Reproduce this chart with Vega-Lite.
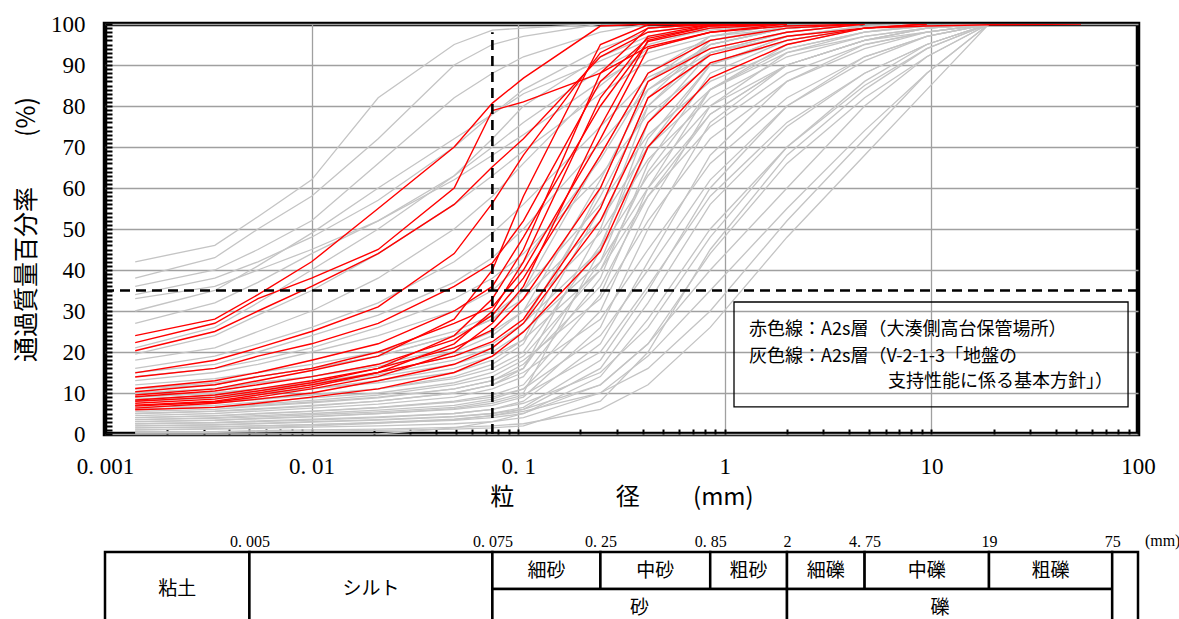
{
"$schema": "https://vega.github.io/schema/vega-lite/v6.json",
"background": "white",
"padding": {"left": 12, "top": 10, "right": 5, "bottom": 5},
"spacing": 20,
"config": {"view": {"stroke": null}, "font": "Liberation Serif"},
"datasets": {
"gray": [
{"g":1,"d":0.0014,"p":42},{"g":1,"d":0.0034,"p":46},{"g":1,"d":0.0055,"p":53},{"g":1,"d":0.01,"p":62},{"g":1,"d":0.021,"p":82},{"g":1,"d":0.049,"p":95},{"g":1,"d":0.075,"p":98.5},{"g":1,"d":0.106,"p":99},{"g":1,"d":0.25,"p":100},
{"g":2,"d":0.0014,"p":38},{"g":2,"d":0.0034,"p":43},{"g":2,"d":0.0055,"p":50},{"g":2,"d":0.01,"p":58},{"g":2,"d":0.021,"p":72},{"g":2,"d":0.049,"p":90},{"g":2,"d":0.075,"p":95},{"g":2,"d":0.106,"p":97},{"g":2,"d":0.25,"p":100},
{"g":3,"d":0.0014,"p":36},{"g":3,"d":0.0034,"p":40},{"g":3,"d":0.0055,"p":45},{"g":3,"d":0.01,"p":52},{"g":3,"d":0.021,"p":66},{"g":3,"d":0.049,"p":82},{"g":3,"d":0.075,"p":88},{"g":3,"d":0.106,"p":92},{"g":3,"d":0.25,"p":98},{"g":3,"d":0.425,"p":100},
{"g":4,"d":0.0014,"p":34},{"g":4,"d":0.0034,"p":38},{"g":4,"d":0.0055,"p":42},{"g":4,"d":0.01,"p":48},{"g":4,"d":0.021,"p":57},{"g":4,"d":0.049,"p":70},{"g":4,"d":0.075,"p":78},{"g":4,"d":0.106,"p":84},{"g":4,"d":0.25,"p":94},{"g":4,"d":0.425,"p":98},{"g":4,"d":0.85,"p":100},
{"g":5,"d":0.0014,"p":33},{"g":5,"d":0.0034,"p":36},{"g":5,"d":0.0055,"p":40},{"g":5,"d":0.01,"p":45},{"g":5,"d":0.021,"p":52},{"g":5,"d":0.049,"p":63},{"g":5,"d":0.075,"p":70},{"g":5,"d":0.106,"p":76},{"g":5,"d":0.25,"p":89},{"g":5,"d":0.425,"p":95},{"g":5,"d":0.85,"p":99},{"g":5,"d":2,"p":100},
{"g":6,"d":0.0014,"p":30},{"g":6,"d":0.0034,"p":35},{"g":6,"d":0.0055,"p":41},{"g":6,"d":0.01,"p":49},{"g":6,"d":0.021,"p":60},{"g":6,"d":0.049,"p":72},{"g":6,"d":0.075,"p":78},{"g":6,"d":0.106,"p":83},{"g":6,"d":0.25,"p":91},{"g":6,"d":0.425,"p":96},{"g":6,"d":0.85,"p":98.5},{"g":6,"d":2,"p":100},
{"g":7,"d":0.0014,"p":27},{"g":7,"d":0.0034,"p":32},{"g":7,"d":0.0055,"p":37},{"g":7,"d":0.01,"p":44},{"g":7,"d":0.021,"p":52},{"g":7,"d":0.049,"p":62},{"g":7,"d":0.075,"p":68},{"g":7,"d":0.106,"p":73},{"g":7,"d":0.25,"p":86},{"g":7,"d":0.425,"p":93},{"g":7,"d":0.85,"p":97},{"g":7,"d":2,"p":99},{"g":7,"d":4.75,"p":100},
{"g":8,"d":0.0014,"p":21},{"g":8,"d":0.0034,"p":26},{"g":8,"d":0.0055,"p":32},{"g":8,"d":0.01,"p":40},{"g":8,"d":0.021,"p":50},{"g":8,"d":0.049,"p":63},{"g":8,"d":0.075,"p":72},{"g":8,"d":0.106,"p":80},{"g":8,"d":0.25,"p":92},{"g":8,"d":0.425,"p":97},{"g":8,"d":0.85,"p":99},{"g":8,"d":2,"p":100},
{"g":9,"d":0.0014,"p":19.5},{"g":9,"d":0.0034,"p":24},{"g":9,"d":0.0055,"p":29},{"g":9,"d":0.01,"p":35},{"g":9,"d":0.021,"p":44},{"g":9,"d":0.049,"p":56},{"g":9,"d":0.075,"p":63},{"g":9,"d":0.106,"p":69},{"g":9,"d":0.25,"p":83},{"g":9,"d":0.425,"p":91},{"g":9,"d":0.85,"p":96},{"g":9,"d":2,"p":99},{"g":9,"d":4.75,"p":100},
{"g":10,"d":0.0014,"p":18},{"g":10,"d":0.0034,"p":21},{"g":10,"d":0.0055,"p":25},{"g":10,"d":0.01,"p":30},{"g":10,"d":0.021,"p":38},{"g":10,"d":0.049,"p":50},{"g":10,"d":0.075,"p":58},{"g":10,"d":0.106,"p":66},{"g":10,"d":0.25,"p":85},{"g":10,"d":0.425,"p":94},{"g":10,"d":0.85,"p":98},{"g":10,"d":2,"p":100},
{"g":11,"d":0.0014,"p":16},{"g":11,"d":0.0034,"p":19},{"g":11,"d":0.0055,"p":22},{"g":11,"d":0.01,"p":26},{"g":11,"d":0.021,"p":32},{"g":11,"d":0.049,"p":42},{"g":11,"d":0.075,"p":49},{"g":11,"d":0.106,"p":56},{"g":11,"d":0.25,"p":75},{"g":11,"d":0.425,"p":87},{"g":11,"d":0.85,"p":94},{"g":11,"d":2,"p":98},{"g":11,"d":4.75,"p":100},
{"g":12,"d":0.0014,"p":15},{"g":12,"d":0.0034,"p":17},{"g":12,"d":0.0055,"p":20},{"g":12,"d":0.01,"p":24},{"g":12,"d":0.021,"p":29},{"g":12,"d":0.049,"p":37},{"g":12,"d":0.075,"p":43},{"g":12,"d":0.106,"p":50},{"g":12,"d":0.25,"p":71},{"g":12,"d":0.425,"p":84},{"g":12,"d":0.85,"p":93},{"g":12,"d":2,"p":97},{"g":12,"d":4.75,"p":99},{"g":12,"d":9.5,"p":100},
{"g":13,"d":0.0014,"p":14},{"g":13,"d":0.0034,"p":16},{"g":13,"d":0.0055,"p":18},{"g":13,"d":0.01,"p":21},{"g":13,"d":0.021,"p":26},{"g":13,"d":0.049,"p":33},{"g":13,"d":0.075,"p":38},{"g":13,"d":0.106,"p":44},{"g":13,"d":0.25,"p":63},{"g":13,"d":0.425,"p":78},{"g":13,"d":0.85,"p":90},{"g":13,"d":2,"p":96},{"g":13,"d":4.75,"p":99},{"g":13,"d":9.5,"p":100},
{"g":14,"d":0.0014,"p":13},{"g":14,"d":0.0034,"p":15},{"g":14,"d":0.0055,"p":17},{"g":14,"d":0.01,"p":20},{"g":14,"d":0.021,"p":24},{"g":14,"d":0.049,"p":30},{"g":14,"d":0.075,"p":35},{"g":14,"d":0.106,"p":42},{"g":14,"d":0.25,"p":67},{"g":14,"d":0.425,"p":86},{"g":14,"d":0.85,"p":95},{"g":14,"d":2,"p":99},{"g":14,"d":4.75,"p":100},
{"g":15,"d":0.0014,"p":12},{"g":15,"d":0.0034,"p":13.5},{"g":15,"d":0.0055,"p":15},{"g":15,"d":0.01,"p":17},{"g":15,"d":0.021,"p":20},{"g":15,"d":0.049,"p":25},{"g":15,"d":0.075,"p":29},{"g":15,"d":0.106,"p":35},{"g":15,"d":0.25,"p":56},{"g":15,"d":0.425,"p":73},{"g":15,"d":0.85,"p":86},{"g":15,"d":2,"p":94},{"g":15,"d":4.75,"p":98},{"g":15,"d":9.5,"p":99.5},{"g":15,"d":19,"p":100},
{"g":16,"d":0.0014,"p":11},{"g":16,"d":0.0034,"p":12},{"g":16,"d":0.0055,"p":14},{"g":16,"d":0.01,"p":16},{"g":16,"d":0.021,"p":19},{"g":16,"d":0.049,"p":24},{"g":16,"d":0.075,"p":28},{"g":16,"d":0.106,"p":33},{"g":16,"d":0.25,"p":52},{"g":16,"d":0.425,"p":70},{"g":16,"d":0.85,"p":84},{"g":16,"d":2,"p":93},{"g":16,"d":4.75,"p":97},{"g":16,"d":9.5,"p":99},{"g":16,"d":19,"p":100},
{"g":17,"d":0.0014,"p":10},{"g":17,"d":0.0034,"p":11},{"g":17,"d":0.0055,"p":12.5},{"g":17,"d":0.01,"p":14},{"g":17,"d":0.021,"p":17},{"g":17,"d":0.049,"p":21},{"g":17,"d":0.075,"p":25},{"g":17,"d":0.106,"p":30},{"g":17,"d":0.25,"p":49},{"g":17,"d":0.425,"p":67},{"g":17,"d":0.85,"p":82},{"g":17,"d":2,"p":92},{"g":17,"d":4.75,"p":97},{"g":17,"d":9.5,"p":99},{"g":17,"d":19,"p":100},
{"g":18,"d":0.0014,"p":9},{"g":18,"d":0.0034,"p":10},{"g":18,"d":0.0055,"p":11},{"g":18,"d":0.01,"p":12.5},{"g":18,"d":0.021,"p":15},{"g":18,"d":0.049,"p":19},{"g":18,"d":0.075,"p":22},{"g":18,"d":0.106,"p":27},{"g":18,"d":0.25,"p":45},{"g":18,"d":0.425,"p":63},{"g":18,"d":0.85,"p":80},{"g":18,"d":2,"p":90},{"g":18,"d":4.75,"p":96},{"g":18,"d":9.5,"p":99},{"g":18,"d":19,"p":100},
{"g":19,"d":0.0014,"p":8.5},{"g":19,"d":0.0034,"p":9.5},{"g":19,"d":0.0055,"p":10.5},{"g":19,"d":0.01,"p":12},{"g":19,"d":0.021,"p":14},{"g":19,"d":0.049,"p":17},{"g":19,"d":0.075,"p":20},{"g":19,"d":0.106,"p":25},{"g":19,"d":0.25,"p":42},{"g":19,"d":0.425,"p":60},{"g":19,"d":0.85,"p":78},{"g":19,"d":2,"p":90},{"g":19,"d":4.75,"p":96},{"g":19,"d":9.5,"p":98},{"g":19,"d":19,"p":100},
{"g":20,"d":0.0014,"p":8},{"g":20,"d":0.0034,"p":9},{"g":20,"d":0.0055,"p":10},{"g":20,"d":0.01,"p":11},{"g":20,"d":0.021,"p":13},{"g":20,"d":0.049,"p":16},{"g":20,"d":0.075,"p":19},{"g":20,"d":0.106,"p":23},{"g":20,"d":0.25,"p":40},{"g":20,"d":0.425,"p":58},{"g":20,"d":0.85,"p":75},{"g":20,"d":2,"p":88},{"g":20,"d":4.75,"p":95},{"g":20,"d":9.5,"p":98},{"g":20,"d":19,"p":100},
{"g":21,"d":0.0014,"p":0.5},{"g":21,"d":0.0034,"p":0.6},{"g":21,"d":0.0055,"p":0.8},{"g":21,"d":0.01,"p":1},{"g":21,"d":0.021,"p":1.2},{"g":21,"d":0.049,"p":1.6},{"g":21,"d":0.075,"p":2},{"g":21,"d":0.106,"p":2.5},{"g":21,"d":0.25,"p":6},{"g":21,"d":0.425,"p":12},{"g":21,"d":0.85,"p":26},{"g":21,"d":2,"p":48},{"g":21,"d":4.75,"p":68},{"g":21,"d":9.5,"p":84},{"g":21,"d":19,"p":100},
{"g":22,"d":0.0014,"p":1},{"g":22,"d":0.0034,"p":1.2},{"g":22,"d":0.0055,"p":1.4},{"g":22,"d":0.01,"p":1.7},{"g":22,"d":0.021,"p":2},{"g":22,"d":0.049,"p":2.5},{"g":22,"d":0.075,"p":3},{"g":22,"d":0.106,"p":4},{"g":22,"d":0.25,"p":10},{"g":22,"d":0.425,"p":19},{"g":22,"d":0.85,"p":35},{"g":22,"d":2,"p":55},{"g":22,"d":4.75,"p":74},{"g":22,"d":9.5,"p":88},{"g":22,"d":19,"p":100},
{"g":23,"d":0.0014,"p":1.5},{"g":23,"d":0.0034,"p":1.8},{"g":23,"d":0.0055,"p":2},{"g":23,"d":0.01,"p":2.3},{"g":23,"d":0.021,"p":2.7},{"g":23,"d":0.049,"p":3.3},{"g":23,"d":0.075,"p":4},{"g":23,"d":0.106,"p":5},{"g":23,"d":0.25,"p":14},{"g":23,"d":0.425,"p":28},{"g":23,"d":0.85,"p":50},{"g":23,"d":2,"p":70},{"g":23,"d":4.75,"p":85},{"g":23,"d":9.5,"p":94},{"g":23,"d":19,"p":100},
{"g":24,"d":0.0014,"p":2},{"g":24,"d":0.0034,"p":2.3},{"g":24,"d":0.0055,"p":2.6},{"g":24,"d":0.01,"p":3},{"g":24,"d":0.021,"p":3.5},{"g":24,"d":0.049,"p":4.3},{"g":24,"d":0.075,"p":5},{"g":24,"d":0.106,"p":6.5},{"g":24,"d":0.25,"p":18},{"g":24,"d":0.425,"p":35},{"g":24,"d":0.85,"p":60},{"g":24,"d":2,"p":80},{"g":24,"d":4.75,"p":92},{"g":24,"d":9.5,"p":97},{"g":24,"d":19,"p":100},
{"g":25,"d":0.0014,"p":2.5},{"g":25,"d":0.0034,"p":2.8},{"g":25,"d":0.0055,"p":3.2},{"g":25,"d":0.01,"p":3.6},{"g":25,"d":0.021,"p":4.2},{"g":25,"d":0.049,"p":5},{"g":25,"d":0.075,"p":6},{"g":25,"d":0.106,"p":8},{"g":25,"d":0.25,"p":22},{"g":25,"d":0.425,"p":42},{"g":25,"d":0.85,"p":68},{"g":25,"d":2,"p":86},{"g":25,"d":4.75,"p":95},{"g":25,"d":9.5,"p":98},{"g":25,"d":19,"p":100},
{"g":26,"d":0.0014,"p":3},{"g":26,"d":0.0034,"p":3.4},{"g":26,"d":0.0055,"p":3.8},{"g":26,"d":0.01,"p":4.3},{"g":26,"d":0.021,"p":5},{"g":26,"d":0.049,"p":6},{"g":26,"d":0.075,"p":7},{"g":26,"d":0.106,"p":9},{"g":26,"d":0.25,"p":26},{"g":26,"d":0.425,"p":50},{"g":26,"d":0.85,"p":76},{"g":26,"d":2,"p":90},{"g":26,"d":4.75,"p":96},{"g":26,"d":9.5,"p":99},{"g":26,"d":19,"p":100},
{"g":27,"d":0.0014,"p":3.5},{"g":27,"d":0.0034,"p":4},{"g":27,"d":0.0055,"p":4.5},{"g":27,"d":0.01,"p":5},{"g":27,"d":0.021,"p":5.8},{"g":27,"d":0.049,"p":7},{"g":27,"d":0.075,"p":8.5},{"g":27,"d":0.106,"p":11},{"g":27,"d":0.25,"p":30},{"g":27,"d":0.425,"p":55},{"g":27,"d":0.85,"p":80},{"g":27,"d":2,"p":93},{"g":27,"d":4.75,"p":98},{"g":27,"d":9.5,"p":99.5},{"g":27,"d":19,"p":100},
{"g":28,"d":0.0014,"p":4},{"g":28,"d":0.0034,"p":4.5},{"g":28,"d":0.0055,"p":5},{"g":28,"d":0.01,"p":5.6},{"g":28,"d":0.021,"p":6.5},{"g":28,"d":0.049,"p":8},{"g":28,"d":0.075,"p":9.5},{"g":28,"d":0.106,"p":12},{"g":28,"d":0.25,"p":34},{"g":28,"d":0.425,"p":60},{"g":28,"d":0.85,"p":84},{"g":28,"d":2,"p":95},{"g":28,"d":4.75,"p":99},{"g":28,"d":9.5,"p":100},
{"g":29,"d":0.0014,"p":4.5},{"g":29,"d":0.0034,"p":5},{"g":29,"d":0.0055,"p":5.6},{"g":29,"d":0.01,"p":6.3},{"g":29,"d":0.021,"p":7.3},{"g":29,"d":0.049,"p":9},{"g":29,"d":0.075,"p":11},{"g":29,"d":0.106,"p":14},{"g":29,"d":0.25,"p":38},{"g":29,"d":0.425,"p":66},{"g":29,"d":0.85,"p":88},{"g":29,"d":2,"p":96},{"g":29,"d":4.75,"p":99},{"g":29,"d":9.5,"p":100},
{"g":30,"d":0.0014,"p":5},{"g":30,"d":0.0034,"p":5.6},{"g":30,"d":0.0055,"p":6.2},{"g":30,"d":0.01,"p":7},{"g":30,"d":0.021,"p":8},{"g":30,"d":0.049,"p":10},{"g":30,"d":0.075,"p":12},{"g":30,"d":0.106,"p":16},{"g":30,"d":0.25,"p":42},{"g":30,"d":0.425,"p":70},{"g":30,"d":0.85,"p":90},{"g":30,"d":2,"p":97},{"g":30,"d":4.75,"p":99.5},{"g":30,"d":9.5,"p":100},
{"g":31,"d":0.0014,"p":5.5},{"g":31,"d":0.0034,"p":6},{"g":31,"d":0.0055,"p":6.8},{"g":31,"d":0.01,"p":7.6},{"g":31,"d":0.021,"p":8.8},{"g":31,"d":0.049,"p":11},{"g":31,"d":0.075,"p":13},{"g":31,"d":0.106,"p":17},{"g":31,"d":0.25,"p":36},{"g":31,"d":0.425,"p":58},{"g":31,"d":0.85,"p":78},{"g":31,"d":2,"p":90},{"g":31,"d":4.75,"p":96},{"g":31,"d":9.5,"p":99},{"g":31,"d":19,"p":100},
{"g":32,"d":0.0014,"p":6},{"g":32,"d":0.0034,"p":6.6},{"g":32,"d":0.0055,"p":7.3},{"g":32,"d":0.01,"p":8.2},{"g":32,"d":0.021,"p":9.5},{"g":32,"d":0.049,"p":12},{"g":32,"d":0.075,"p":14},{"g":32,"d":0.106,"p":18},{"g":32,"d":0.25,"p":33},{"g":32,"d":0.425,"p":52},{"g":32,"d":0.85,"p":72},{"g":32,"d":2,"p":86},{"g":32,"d":4.75,"p":94},{"g":32,"d":9.5,"p":98},{"g":32,"d":19,"p":100},
{"g":33,"d":0.0014,"p":6.5},{"g":33,"d":0.0034,"p":7},{"g":33,"d":0.0055,"p":7.8},{"g":33,"d":0.01,"p":8.8},{"g":33,"d":0.021,"p":10},{"g":33,"d":0.049,"p":12.5},{"g":33,"d":0.075,"p":15},{"g":33,"d":0.106,"p":19},{"g":33,"d":0.25,"p":40},{"g":33,"d":0.425,"p":64},{"g":33,"d":0.85,"p":84},{"g":33,"d":2,"p":94},{"g":33,"d":4.75,"p":98},{"g":33,"d":9.5,"p":100},
{"g":34,"d":0.0014,"p":7},{"g":34,"d":0.0034,"p":7.6},{"g":34,"d":0.0055,"p":8.4},{"g":34,"d":0.01,"p":9.5},{"g":34,"d":0.021,"p":11},{"g":34,"d":0.049,"p":13.5},{"g":34,"d":0.075,"p":16},{"g":34,"d":0.106,"p":20},{"g":34,"d":0.25,"p":46},{"g":34,"d":0.425,"p":72},{"g":34,"d":0.85,"p":90},{"g":34,"d":2,"p":97},{"g":34,"d":4.75,"p":99.5},{"g":34,"d":9.5,"p":100},
{"g":35,"d":0.0014,"p":1},{"g":35,"d":0.0034,"p":1.3},{"g":35,"d":0.0055,"p":1.6},{"g":35,"d":0.01,"p":2},{"g":35,"d":0.021,"p":2.6},{"g":35,"d":0.049,"p":3.5},{"g":35,"d":0.075,"p":4.5},{"g":35,"d":0.106,"p":6},{"g":35,"d":0.25,"p":16},{"g":35,"d":0.425,"p":32},{"g":35,"d":0.85,"p":56},{"g":35,"d":2,"p":75},{"g":35,"d":4.75,"p":88},{"g":35,"d":9.5,"p":95},{"g":35,"d":19,"p":100},
{"g":36,"d":0.0014,"p":2},{"g":36,"d":0.0034,"p":2.2},{"g":36,"d":0.0055,"p":2.5},{"g":36,"d":0.01,"p":2.9},{"g":36,"d":0.021,"p":3.4},{"g":36,"d":0.049,"p":4.2},{"g":36,"d":0.075,"p":5},{"g":36,"d":0.106,"p":6},{"g":36,"d":0.25,"p":12},{"g":36,"d":0.425,"p":22},{"g":36,"d":0.85,"p":44},{"g":36,"d":2,"p":66},{"g":36,"d":4.75,"p":82},{"g":36,"d":9.5,"p":92},{"g":36,"d":19,"p":100},
{"g":37,"d":0.0014,"p":3},{"g":37,"d":0.0034,"p":3.3},{"g":37,"d":0.0055,"p":3.7},{"g":37,"d":0.01,"p":4.2},{"g":37,"d":0.021,"p":5},{"g":37,"d":0.049,"p":6.2},{"g":37,"d":0.075,"p":7.5},{"g":37,"d":0.106,"p":9.5},{"g":37,"d":0.25,"p":20},{"g":37,"d":0.425,"p":36},{"g":37,"d":0.85,"p":58},{"g":37,"d":2,"p":76},{"g":37,"d":4.75,"p":88},{"g":37,"d":9.5,"p":95},{"g":37,"d":19,"p":100},
{"g":38,"d":0.0014,"p":4},{"g":38,"d":0.0034,"p":4.4},{"g":38,"d":0.0055,"p":4.9},{"g":38,"d":0.01,"p":5.5},{"g":38,"d":0.021,"p":6.4},{"g":38,"d":0.049,"p":7.8},{"g":38,"d":0.075,"p":9},{"g":38,"d":0.106,"p":11},{"g":38,"d":0.25,"p":24},{"g":38,"d":0.425,"p":40},{"g":38,"d":0.85,"p":62},{"g":38,"d":2,"p":80},{"g":38,"d":4.75,"p":91},{"g":38,"d":9.5,"p":97},{"g":38,"d":19,"p":100},
{"g":39,"d":0.0014,"p":0.3},{"g":39,"d":0.0034,"p":0.4},{"g":39,"d":0.0055,"p":0.5},{"g":39,"d":0.01,"p":0.7},{"g":39,"d":0.021,"p":0.9},{"g":39,"d":0.049,"p":1.2},{"g":39,"d":0.075,"p":1.5},{"g":39,"d":0.106,"p":2},{"g":39,"d":0.25,"p":8},{"g":39,"d":0.425,"p":20},{"g":39,"d":0.85,"p":45},{"g":39,"d":2,"p":68},{"g":39,"d":4.75,"p":84},{"g":39,"d":9.5,"p":94},{"g":39,"d":19,"p":100},
{"g":40,"d":0.0014,"p":0},{"g":40,"d":0.0034,"p":0},{"g":40,"d":0.0055,"p":0},{"g":40,"d":0.01,"p":0},{"g":40,"d":0.021,"p":0},{"g":40,"d":0.049,"p":1.5},{"g":40,"d":0.075,"p":3},{"g":40,"d":0.106,"p":5},{"g":40,"d":0.25,"p":12},{"g":40,"d":0.425,"p":22},{"g":40,"d":0.85,"p":40},{"g":40,"d":2,"p":60},{"g":40,"d":4.75,"p":80},{"g":40,"d":9.5,"p":92},{"g":40,"d":19,"p":100},
{"g":41,"d":0.0014,"p":5},{"g":41,"d":0.0034,"p":5.5},{"g":41,"d":0.0055,"p":6},{"g":41,"d":0.01,"p":6.8},{"g":41,"d":0.021,"p":8},{"g":41,"d":0.049,"p":10},{"g":41,"d":0.075,"p":12},{"g":41,"d":0.106,"p":15},{"g":41,"d":0.25,"p":28},{"g":41,"d":0.425,"p":45},{"g":41,"d":0.85,"p":66},{"g":41,"d":2,"p":82},{"g":41,"d":4.75,"p":92},{"g":41,"d":9.5,"p":97},{"g":41,"d":19,"p":100},
{"g":42,"d":0.0014,"p":2.5},{"g":42,"d":0.0034,"p":2.7},{"g":42,"d":0.0055,"p":3},{"g":42,"d":0.01,"p":3.4},{"g":42,"d":0.021,"p":4},{"g":42,"d":0.049,"p":5},{"g":42,"d":0.075,"p":6},{"g":42,"d":0.106,"p":7.5},{"g":42,"d":0.25,"p":15},{"g":42,"d":0.425,"p":26},{"g":42,"d":0.85,"p":48},{"g":42,"d":2,"p":70},{"g":42,"d":4.75,"p":86},{"g":42,"d":9.5,"p":95},{"g":42,"d":19,"p":100},
{"g":43,"d":0.0014,"p":1.5},{"g":43,"d":0.0034,"p":1.7},{"g":43,"d":0.0055,"p":2},{"g":43,"d":0.01,"p":2.3},{"g":43,"d":0.021,"p":2.8},{"g":43,"d":0.049,"p":3.6},{"g":43,"d":0.075,"p":4.5},{"g":43,"d":0.106,"p":5.5},{"g":43,"d":0.25,"p":10},{"g":43,"d":0.425,"p":16},{"g":43,"d":0.85,"p":30},{"g":43,"d":2,"p":52},{"g":43,"d":4.75,"p":72},{"g":43,"d":9.5,"p":88},{"g":43,"d":19,"p":100},
{"g":44,"d":0.0014,"p":6},{"g":44,"d":0.0034,"p":6.5},{"g":44,"d":0.0055,"p":7},{"g":44,"d":0.01,"p":7.8},{"g":44,"d":0.021,"p":9},{"g":44,"d":0.049,"p":11},{"g":44,"d":0.075,"p":13},{"g":44,"d":0.106,"p":16},{"g":44,"d":0.25,"p":50},{"g":44,"d":0.425,"p":80},{"g":44,"d":0.85,"p":95},{"g":44,"d":2,"p":99},{"g":44,"d":4.75,"p":100},
{"g":45,"d":0.0014,"p":7},{"g":45,"d":0.0034,"p":7.8},{"g":45,"d":0.0055,"p":8.6},{"g":45,"d":0.01,"p":9.6},{"g":45,"d":0.021,"p":11},{"g":45,"d":0.049,"p":14},{"g":45,"d":0.075,"p":17},{"g":45,"d":0.106,"p":22},{"g":45,"d":0.25,"p":55},{"g":45,"d":0.425,"p":82},{"g":45,"d":0.85,"p":96},{"g":45,"d":2,"p":99.5},{"g":45,"d":4.75,"p":100},
{"g":46,"d":0.0014,"p":3.5},{"g":46,"d":0.0034,"p":3.8},{"g":46,"d":0.0055,"p":4.2},{"g":46,"d":0.01,"p":4.7},{"g":46,"d":0.021,"p":5.4},{"g":46,"d":0.049,"p":6.5},{"g":46,"d":0.075,"p":8},{"g":46,"d":0.106,"p":10},{"g":46,"d":0.25,"p":45},{"g":46,"d":0.425,"p":76},{"g":46,"d":0.85,"p":93},{"g":46,"d":2,"p":98},{"g":46,"d":4.75,"p":100},
{"g":47,"d":0.0014,"p":8},{"g":47,"d":0.0034,"p":8.8},{"g":47,"d":0.0055,"p":9.7},{"g":47,"d":0.01,"p":11},{"g":47,"d":0.021,"p":12.5},{"g":47,"d":0.049,"p":15},{"g":47,"d":0.075,"p":18},{"g":47,"d":0.106,"p":23},{"g":47,"d":0.25,"p":60},{"g":47,"d":0.425,"p":86},{"g":47,"d":0.85,"p":97},{"g":47,"d":2,"p":100},
{"g":48,"d":0.0014,"p":9},{"g":48,"d":0.0034,"p":10},{"g":48,"d":0.0055,"p":11},{"g":48,"d":0.01,"p":12.5},{"g":48,"d":0.021,"p":14.5},{"g":48,"d":0.049,"p":18},{"g":48,"d":0.075,"p":21},{"g":48,"d":0.106,"p":27},{"g":48,"d":0.25,"p":58},{"g":48,"d":0.425,"p":80},{"g":48,"d":0.85,"p":93},{"g":48,"d":2,"p":98},{"g":48,"d":4.75,"p":100},
{"g":49,"d":0.0014,"p":10},{"g":49,"d":0.0034,"p":11},{"g":49,"d":0.0055,"p":12.5},{"g":49,"d":0.01,"p":14},{"g":49,"d":0.021,"p":16.5},{"g":49,"d":0.049,"p":20},{"g":49,"d":0.075,"p":24},{"g":49,"d":0.106,"p":30},{"g":49,"d":0.25,"p":62},{"g":49,"d":0.425,"p":84},{"g":49,"d":0.85,"p":95},{"g":49,"d":2,"p":99},{"g":49,"d":4.75,"p":100},
{"g":50,"d":0.0014,"p":11},{"g":50,"d":0.0034,"p":12.5},{"g":50,"d":0.0055,"p":14},{"g":50,"d":0.01,"p":16},{"g":50,"d":0.021,"p":19},{"g":50,"d":0.049,"p":24},{"g":50,"d":0.075,"p":28},{"g":50,"d":0.106,"p":35},{"g":50,"d":0.25,"p":68},{"g":50,"d":0.425,"p":88},{"g":50,"d":0.85,"p":97},{"g":50,"d":2,"p":100}
],
"red": [
{"g":1,"d":0.0014,"p":24},{"g":1,"d":0.0034,"p":28},{"g":1,"d":0.0055,"p":34},{"g":1,"d":0.01,"p":42},{"g":1,"d":0.021,"p":55},{"g":1,"d":0.049,"p":70},{"g":1,"d":0.075,"p":80.7},{"g":1,"d":0.106,"p":86.8},{"g":1,"d":0.25,"p":99.5},{"g":1,"d":0.425,"p":100},
{"g":2,"d":0.0014,"p":22.3},{"g":2,"d":0.0034,"p":27},{"g":2,"d":0.0055,"p":33},{"g":2,"d":0.01,"p":38},{"g":2,"d":0.021,"p":45},{"g":2,"d":0.049,"p":60},{"g":2,"d":0.075,"p":78.9},{"g":2,"d":0.106,"p":81},{"g":2,"d":0.25,"p":88},{"g":2,"d":0.425,"p":94.5},{"g":2,"d":0.85,"p":98},{"g":2,"d":2,"p":99.5},{"g":2,"d":4.75,"p":100},
{"g":3,"d":0.0014,"p":20.3},{"g":3,"d":0.0034,"p":25},{"g":3,"d":0.0055,"p":30},{"g":3,"d":0.01,"p":36},{"g":3,"d":0.021,"p":44},{"g":3,"d":0.049,"p":56},{"g":3,"d":0.075,"p":65.2},{"g":3,"d":0.106,"p":72},{"g":3,"d":0.25,"p":92},{"g":3,"d":0.425,"p":98},{"g":3,"d":0.85,"p":99.8},{"g":3,"d":2,"p":100},
{"g":4,"d":0.0014,"p":14.9},{"g":4,"d":0.0034,"p":18},{"g":4,"d":0.0055,"p":21},{"g":4,"d":0.01,"p":25},{"g":4,"d":0.021,"p":31},{"g":4,"d":0.049,"p":44},{"g":4,"d":0.075,"p":56.3},{"g":4,"d":0.106,"p":68},{"g":4,"d":0.25,"p":93},{"g":4,"d":0.425,"p":99},{"g":4,"d":0.85,"p":100},
{"g":5,"d":0.0014,"p":13.9},{"g":5,"d":0.0034,"p":16},{"g":5,"d":0.0055,"p":19},{"g":5,"d":0.01,"p":22},{"g":5,"d":0.021,"p":27},{"g":5,"d":0.049,"p":36},{"g":5,"d":0.075,"p":41.7},{"g":5,"d":0.106,"p":52},{"g":5,"d":0.25,"p":86},{"g":5,"d":0.425,"p":96.5},{"g":5,"d":0.85,"p":99.5},{"g":5,"d":2,"p":100},
{"g":6,"d":0.0014,"p":11.1},{"g":6,"d":0.0034,"p":13},{"g":6,"d":0.0055,"p":15},{"g":6,"d":0.01,"p":18},{"g":6,"d":0.021,"p":22},{"g":6,"d":0.049,"p":30},{"g":6,"d":0.075,"p":36},{"g":6,"d":0.106,"p":48},{"g":6,"d":0.25,"p":80},{"g":6,"d":0.425,"p":95.7},{"g":6,"d":0.85,"p":99},{"g":6,"d":2,"p":100},
{"g":7,"d":0.0014,"p":10.3},{"g":7,"d":0.0034,"p":12},{"g":7,"d":0.0055,"p":14},{"g":7,"d":0.01,"p":16},{"g":7,"d":0.021,"p":20},{"g":7,"d":0.049,"p":27},{"g":7,"d":0.075,"p":31},{"g":7,"d":0.106,"p":40},{"g":7,"d":0.25,"p":72},{"g":7,"d":0.425,"p":94},{"g":7,"d":0.85,"p":98},{"g":7,"d":2,"p":100},
{"g":8,"d":0.0014,"p":9.1},{"g":8,"d":0.0034,"p":10.5},{"g":8,"d":0.0055,"p":12},{"g":8,"d":0.01,"p":14},{"g":8,"d":0.021,"p":17},{"g":8,"d":0.049,"p":23},{"g":8,"d":0.075,"p":29},{"g":8,"d":0.106,"p":38},{"g":8,"d":0.25,"p":68},{"g":8,"d":0.425,"p":88},{"g":8,"d":0.85,"p":96},{"g":8,"d":2,"p":99},{"g":8,"d":4.75,"p":100},
{"g":9,"d":0.0014,"p":8.3},{"g":9,"d":0.0034,"p":9.5},{"g":9,"d":0.0055,"p":11},{"g":9,"d":0.01,"p":13},{"g":9,"d":0.021,"p":16},{"g":9,"d":0.049,"p":21},{"g":9,"d":0.075,"p":25.4},{"g":9,"d":0.106,"p":33},{"g":9,"d":0.25,"p":60},{"g":9,"d":0.425,"p":86},{"g":9,"d":0.85,"p":94},{"g":9,"d":2,"p":98},{"g":9,"d":4.75,"p":100},
{"g":10,"d":0.0014,"p":7.5},{"g":10,"d":0.0034,"p":8.5},{"g":10,"d":0.0055,"p":10},{"g":10,"d":0.01,"p":12},{"g":10,"d":0.021,"p":15},{"g":10,"d":0.049,"p":19},{"g":10,"d":0.075,"p":22.5},{"g":10,"d":0.106,"p":28},{"g":10,"d":0.25,"p":55},{"g":10,"d":0.425,"p":82},{"g":10,"d":0.85,"p":92.4},{"g":10,"d":2,"p":97},{"g":10,"d":4.75,"p":99},{"g":10,"d":9.5,"p":100},
{"g":11,"d":0.0014,"p":6.3},{"g":11,"d":0.0034,"p":7.5},{"g":11,"d":0.0055,"p":8.5},{"g":11,"d":0.01,"p":10},{"g":11,"d":0.021,"p":13},{"g":11,"d":0.049,"p":17},{"g":11,"d":0.075,"p":21},{"g":11,"d":0.106,"p":27},{"g":11,"d":0.25,"p":52},{"g":11,"d":0.425,"p":76},{"g":11,"d":0.85,"p":90.5},{"g":11,"d":2,"p":96},{"g":11,"d":4.75,"p":99},{"g":11,"d":9.5,"p":100},
{"g":12,"d":0.0014,"p":5.9},{"g":12,"d":0.0034,"p":6.5},{"g":12,"d":0.0055,"p":7.5},{"g":12,"d":0.01,"p":9},{"g":12,"d":0.021,"p":11},{"g":12,"d":0.049,"p":15},{"g":12,"d":0.075,"p":19},{"g":12,"d":0.106,"p":24.9},{"g":12,"d":0.25,"p":44.5},{"g":12,"d":0.425,"p":70},{"g":12,"d":0.85,"p":86.8},{"g":12,"d":2,"p":95},{"g":12,"d":4.75,"p":99},{"g":12,"d":9.5,"p":99.5},{"g":12,"d":19,"p":99.8},{"g":12,"d":53,"p":100},
{"g":13,"d":0.0014,"p":6.8},{"g":13,"d":0.0034,"p":7.8},{"g":13,"d":0.0055,"p":9},{"g":13,"d":0.01,"p":11},{"g":13,"d":0.021,"p":14},{"g":13,"d":0.049,"p":20},{"g":13,"d":0.075,"p":27},{"g":13,"d":0.106,"p":36},{"g":13,"d":0.25,"p":75},{"g":13,"d":0.425,"p":96},{"g":13,"d":0.85,"p":99.5},{"g":13,"d":2,"p":100},
{"g":14,"d":0.0014,"p":8},{"g":14,"d":0.0034,"p":9},{"g":14,"d":0.0055,"p":10.5},{"g":14,"d":0.01,"p":12.5},{"g":14,"d":0.021,"p":16},{"g":14,"d":0.049,"p":24},{"g":14,"d":0.075,"p":33},{"g":14,"d":0.106,"p":45},{"g":14,"d":0.25,"p":88},{"g":14,"d":0.425,"p":99},{"g":14,"d":0.85,"p":100},
{"g":15,"d":0.0014,"p":9.5},{"g":15,"d":0.0034,"p":11},{"g":15,"d":0.0055,"p":13},{"g":15,"d":0.01,"p":15.5},{"g":15,"d":0.021,"p":19},{"g":15,"d":0.049,"p":28},{"g":15,"d":0.075,"p":40},{"g":15,"d":0.106,"p":58},{"g":15,"d":0.25,"p":95},{"g":15,"d":0.425,"p":99.8},{"g":15,"d":0.85,"p":100},
{"g":16,"d":0.0014,"p":7},{"g":16,"d":0.0034,"p":8},{"g":16,"d":0.0055,"p":9.5},{"g":16,"d":0.01,"p":11.5},{"g":16,"d":0.021,"p":15},{"g":16,"d":0.049,"p":22},{"g":16,"d":0.075,"p":30},{"g":16,"d":0.106,"p":42},{"g":16,"d":0.25,"p":82},{"g":16,"d":0.425,"p":97},{"g":16,"d":0.85,"p":99.8},{"g":16,"d":2,"p":100}
],
"table": [
{"t":"粘土","lo":0.001,"hi":0.005,"r0":0,"r1":2,"m":0.00224,"rm":1},
{"t":"シルト","lo":0.005,"hi":0.075,"r0":0,"r1":2,"m":0.0194,"rm":1},
{"t":"細砂","lo":0.075,"hi":0.25,"r0":0,"r1":1,"m":0.137,"rm":0.5},
{"t":"中砂","lo":0.25,"hi":0.85,"r0":0,"r1":1,"m":0.461,"rm":0.5},
{"t":"粗砂","lo":0.85,"hi":2,"r0":0,"r1":1,"m":1.304,"rm":0.5},
{"t":"砂","lo":0.075,"hi":2,"r0":1,"r1":2,"m":0.387,"rm":1.5},
{"t":"細礫","lo":2,"hi":4.75,"r0":0,"r1":1,"m":3.08,"rm":0.5},
{"t":"中礫","lo":4.75,"hi":19,"r0":0,"r1":1,"m":9.5,"rm":0.5},
{"t":"粗礫","lo":19,"hi":75,"r0":0,"r1":1,"m":37.7,"rm":0.5},
{"t":"礫","lo":2,"hi":75,"r0":1,"r1":2,"m":11,"rm":1.5},
{"t":"","lo":75,"hi":100,"r0":0,"r1":2,"m":86.6,"rm":1}
]
},
"vconcat": [
{
"width": 1033,
"height": 410,
"view": {"stroke": "black", "strokeWidth": 4.5},
"layer": [
{
"data": {"name": "gray"},
"mark": {"type": "line", "color": "#c4c4c4", "strokeWidth": 1.3, "clip": true},
"encoding": {
"x": {"field": "d", "type": "quantitative",
"scale": {"type": "log", "domain": [0.001, 100], "nice": false},
"axis": {
"title": "粒　　　　 径　　 (mm)",
"titleFont": "Noto Sans CJK JP", "titleFontSize": 24, "titleFontWeight": "normal", "titleColor": "black", "titlePadding": 7,
"values": [0.001,0.002,0.003,0.004,0.005,0.006,0.007,0.008,0.009,0.01,0.02,0.03,0.04,0.05,0.06,0.07,0.08,0.09,0.1,0.2,0.3,0.4,0.5,0.6,0.7,0.8,0.9,1,2,3,4,5,6,7,8,9,10,20,30,40,50,60,70,80,90,100],
"tickCount": 1000,
"labelExpr": "datum.value==0.001?'0. 001':datum.value==0.01?'0. 01':datum.value==0.1?'0. 1':datum.value==1?'1':datum.value==10?'10':datum.value==100?'100':''",
"labelFont": "Liberation Serif", "labelFontSize": 23, "labelColor": "black", "labelPadding": 26, "labelFlush": false, "labelOverlap": false,
"domain": false,
"tickSize": -5, "tickWidth": 2, "tickColor": "black",
"grid": true, "gridColor": "#a0a0a0", "gridWidth": 1.3,
"gridOpacity": {"condition": {"test": "datum.value==0.01||datum.value==0.1||datum.value==1||datum.value==10", "value": 1}, "value": 0}
}
},
"y": {"field": "p", "type": "quantitative",
"scale": {"domain": [0, 100], "nice": false},
"axis": {
"title": "通過質量百分率　　(%)",
"titleFont": "Noto Sans CJK JP", "titleFontSize": 25, "titleFontWeight": "normal", "titleColor": "black", "titlePadding": 11,
"values": [0,1,2,3,4,5,6,7,8,9,10,11,12,13,14,15,16,17,18,19,20,21,22,23,24,25,26,27,28,29,30,31,32,33,34,35,36,37,38,39,40,41,42,43,44,45,46,47,48,49,50,51,52,53,54,55,56,57,58,59,60,61,62,63,64,65,66,67,68,69,70,71,72,73,74,75,76,77,78,79,80,81,82,83,84,85,86,87,88,89,90,91,92,93,94,95,96,97,98,99,100],
"tickCount": 1000,
"labelExpr": "datum.value % 10 == 0 ? '' + datum.value : ''",
"labelFont": "Liberation Serif", "labelFontSize": 23, "labelColor": "black", "labelPadding": 27, "labelFlush": false, "labelOverlap": false,
"domain": false,
"tickSize": -7, "tickWidth": 2, "tickColor": "black",
"grid": true, "gridColor": "#a0a0a0", "gridWidth": 1.3,
"gridOpacity": {"condition": {"test": "datum.value % 10 == 0", "value": 1}, "value": 0}
}
},
"detail": {"field": "g", "type": "nominal"}
}
},
{
"data": {"name": "red"},
"mark": {"type": "line", "color": "#ff0000", "strokeWidth": 1.4, "clip": true},
"encoding": {
"x": {"field": "d", "type": "quantitative"},
"y": {"field": "p", "type": "quantitative"},
"detail": {"field": "g", "type": "nominal"}
}
},
{
"data": {"values": [{}]},
"mark": {"type": "rule", "color": "black", "strokeWidth": 2.6, "strokeDash": [10, 6]},
"encoding": {"x": {"datum": 0.075}, "y": {"datum": 0}, "y2": {"datum": 98}}
},
{
"data": {"values": [{}]},
"mark": {"type": "rule", "color": "black", "strokeWidth": 2.6, "strokeDash": [10, 6]},
"encoding": {"y": {"datum": 35}}
},
{
"data": {"values": [{}]},
"mark": {"type": "rect", "fillOpacity": 0, "stroke": "black", "strokeWidth": 1.3},
"encoding": {"x": {"datum": 1.108}, "x2": {"datum": 89.5}, "y": {"datum": 32.2}, "y2": {"datum": 6.6}}
},
{
"data": {"values": [{}]},
"mark": {"type": "text", "align": "left", "baseline": "middle", "font": "Noto Sans CJK JP", "fontSize": 18, "color": "black"},
"encoding": {"x": {"datum": 1.31}, "y": {"datum": 25.4}, "text": {"value": "赤色線：A2s層（大湊側高台保管場所）"}}
},
{
"data": {"values": [{}]},
"mark": {"type": "text", "align": "left", "baseline": "middle", "font": "Noto Sans CJK JP", "fontSize": 18, "color": "black"},
"encoding": {"x": {"datum": 1.31}, "y": {"datum": 18.8}, "text": {"value": "灰色線：A2s層（V-2-1-3「地盤の"}}
},
{
"data": {"values": [{}]},
"mark": {"type": "text", "align": "left", "baseline": "middle", "font": "Noto Sans CJK JP", "fontSize": 18, "color": "black"},
"encoding": {"x": {"datum": 6.17}, "y": {"datum": 12.7}, "text": {"value": "支持性能に係る基本方針」）"}}
}
]
},
{
"width": 1033,
"height": 74,
"data": {"name": "table"},
"layer": [
{
"mark": {"type": "rect", "fill": "white", "stroke": "black", "strokeWidth": 2.5},
"encoding": {
"x": {"field": "lo", "type": "quantitative",
"scale": {"type": "log", "domain": [0.001, 100], "nice": false},
"axis": {"orient": "top", "title": null, "values": [0.005, 0.075, 0.25, 0.85, 2, 4.75, 19, 75], "tickCount": 100,
"labelExpr": "replace('' + datum.value, '.', '. ')",
"labelFont": "Liberation Serif", "labelFontSize": 16, "labelColor": "black", "labelPadding": 3,
"labelFlush": false, "labelOverlap": false, "ticks": false, "domain": false, "grid": false}},
"x2": {"field": "hi"},
"y": {"field": "r0", "type": "quantitative", "scale": {"domain": [0, 2], "reverse": true, "nice": false}, "axis": null},
"y2": {"field": "r1"}
}
},
{
"mark": {"type": "text", "font": "Noto Sans CJK JP", "fontSize": 19, "color": "black", "baseline": "middle"},
"encoding": {
"x": {"field": "m", "type": "quantitative"},
"y": {"field": "rm", "type": "quantitative"},
"text": {"field": "t"}
}
},
{
"data": {"values": [{}]},
"mark": {"type": "text", "font": "Liberation Serif", "fontSize": 16, "color": "black", "baseline": "middle", "align": "left"},
"encoding": {"x": {"datum": 108}, "y": {"datum": -0.3}, "text": {"value": "(mm)"}}
}
]
}
]
}
